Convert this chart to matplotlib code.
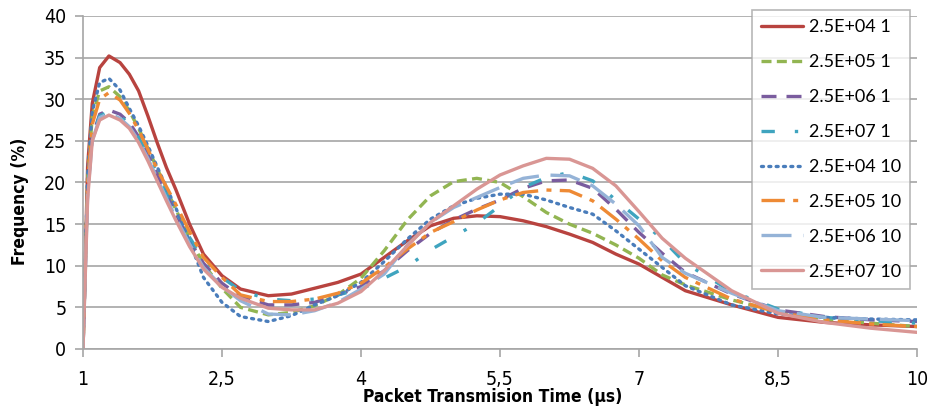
import matplotlib
matplotlib.use('Agg')
import matplotlib.pyplot as plt
from matplotlib import font_manager

x = [1.0, 1.05, 1.1, 1.18, 1.28, 1.4, 1.5, 1.6, 1.7, 1.8, 1.9, 2.0, 2.15, 2.3, 2.5,
     2.7, 3.0, 3.25, 3.5, 3.75, 4.0, 4.25, 4.5, 4.75, 5.0, 5.25, 5.5, 5.75, 6.0,
     6.25, 6.5, 6.75, 7.0, 7.25, 7.5, 8.0, 8.5, 9.0, 9.5, 10.0]

s_e4_1 = [0, 22, 29.5, 33.8, 35.2, 34.4, 33.0, 31.0, 28.0, 24.8, 21.8, 19.2, 15.0, 11.4, 8.8,
          7.2, 6.4, 6.6, 7.3, 8.0, 9.0, 11.0, 13.0, 14.8, 15.7, 16.0, 15.9, 15.4, 14.7,
          13.8, 12.8, 11.4, 10.2, 8.6, 7.0, 5.3, 3.8, 3.2, 2.9, 2.7]
s_e5_1 = [0, 20.5, 28, 31, 31.5, 30.3, 28.6, 26.5, 24.1, 21.7, 19.2, 16.8, 13.3, 10.2, 7.3,
          5.0, 4.1, 4.4, 5.2, 6.5, 8.5, 11.8, 15.5, 18.4, 20.1, 20.5, 20.0, 18.3, 16.4,
          15.0, 13.9, 12.5, 10.9, 8.9, 7.7, 5.9, 4.5, 3.6, 3.1, 2.7]
s_e6_1 = [0, 19, 25.5, 28.2, 28.7, 28.2, 27.2, 25.5, 23.4, 21.0, 18.6, 16.3, 13.0, 10.3, 7.9,
          6.3, 5.3, 5.3, 5.6, 6.5, 7.5, 9.4, 11.8, 13.9, 15.5, 16.8, 17.9, 19.3, 20.2,
          20.3, 19.3, 16.8, 14.0, 11.5, 9.2, 6.6, 4.7, 3.9, 3.5, 3.3]
s_e7_1 = [0, 19, 25.5, 28.0, 28.5, 28.0, 27.0, 25.4, 23.4, 21.2, 18.9, 16.6, 13.4, 10.8, 8.6,
          7.0, 6.0, 5.8, 6.0, 6.5, 7.2, 8.5, 9.9, 11.9, 13.5, 15.1, 17.2, 19.4, 20.6,
          21.2, 20.2, 17.9, 15.6, 13.2, 10.3, 6.9, 4.8, 3.8, 3.4, 3.1]
s_e4_10 = [0, 21, 28.5, 32, 32.5, 31.1, 28.9, 26.8, 24.4, 21.9, 19.4, 17.0, 12.9, 8.6, 5.6,
           3.9, 3.3, 4.0, 5.3, 6.4, 8.0, 10.5, 13.2, 15.6, 17.2, 18.1, 18.6, 18.6, 17.9,
           17.0, 16.2, 14.2, 12.0, 9.8, 7.6, 5.3, 4.2, 3.8, 3.6, 3.5]
s_e5_10 = [0, 20, 27, 30, 30.8, 29.9, 28.3, 26.3, 24.0, 21.6, 19.5, 17.4, 14.1, 11.0, 8.6,
           6.5, 5.7, 5.7, 6.0, 6.7, 7.9, 9.8, 12.0, 14.0, 15.3, 16.7, 17.9, 18.8, 19.1,
           19.0, 17.8, 15.6, 13.2, 10.6, 8.6, 6.0, 4.4, 3.5, 3.0, 2.7]
s_e6_10 = [0, 18.5, 25, 27.8, 28.3, 27.7, 26.7, 25.0, 22.9, 20.5, 18.1, 15.8, 12.6, 9.8, 7.5,
           5.8, 4.2, 4.1, 4.6, 5.6, 7.2, 9.0, 12.5, 15.2, 17.0, 18.2, 19.4, 20.5, 20.9,
           20.8, 19.6, 17.4, 14.8, 11.0, 9.1, 6.7, 4.6, 3.8, 3.6, 3.4]
s_e7_10 = [0, 18, 25, 27.5, 28.1, 27.5, 26.5, 24.8, 22.6, 20.2, 17.8, 15.5, 12.3, 9.6, 7.4,
           6.1, 4.9, 4.7, 4.7, 5.5, 6.9, 9.4, 12.4, 15.2, 17.2, 19.2, 20.9, 22.0, 22.9,
           22.8, 21.7, 19.6, 16.5, 13.3, 10.9, 7.0, 4.3, 3.2, 2.5, 2.0]

labels = ['2.5E+04 1', '2.5E+05 1', '2.5E+06 1', '2.5E+07 1',
          '2.5E+04 10', '2.5E+05 10', '2.5E+06 10', '2.5E+07 10']
series = [s_e4_1, s_e5_1, s_e6_1, s_e7_1, s_e4_10, s_e5_10, s_e6_10, s_e7_10]
colors = ['#B8433F', '#92B552', '#7A5C9E', '#3FA4BF', '#4A7DBB', '#EE8A35', '#95B3D7', '#D99694']
styles = ['-', (0, (3, 1.6)), (0, (4.5, 3)), (0, (4, 6, 1, 6)),
          (0, (0.6, 1.6)), (0, (7, 2.5, 1.5, 2.5)), (0, (9, 3.5)), '-']

x_ticks = [1, 2.5, 4, 5.5, 7, 8.5, 10]
x_tick_labels = ['1', '2,5', '4', '5,5', '7', '8,5', '10']
y_ticks = [0, 5, 10, 15, 20, 25, 30, 35, 40]

names = {f.name for f in font_manager.fontManager.ttflist}
narrow = 'Liberation Sans Narrow' if 'Liberation Sans Narrow' in names else 'DejaVu Sans'
tick_font = font_manager.FontProperties(family=narrow, stretch='condensed', size=14)
title_font = font_manager.FontProperties(family=narrow, stretch='condensed', weight='bold', size=12.5)
legend_font = font_manager.FontProperties(family=['Lato', 'DejaVu Sans'], size=13)

fig = plt.figure(figsize=(9.33, 4.12), dpi=100)
ax = fig.add_axes([83 / 933, 1 - 349 / 412, (917 - 83) / 933, (349 - 16) / 412])

for ys, c, ls, lab in zip(series, colors, styles, labels):
    cap = 'round' if ls == (0, (0.6, 1.6)) else 'butt'
    ax.plot(x, ys, color=c, linestyle=ls, linewidth=2.4, label=lab,
            dash_capstyle=cap, solid_capstyle='round')

ax.set_xlim(1, 10)
ax.set_ylim(0, 40)
ax.set_xticks(x_ticks)
ax.set_xticklabels(x_tick_labels, fontproperties=tick_font)
ax.set_yticks(y_ticks)
ax.set_yticklabels([str(v) for v in y_ticks], fontproperties=tick_font)
ax.yaxis.grid(True, color='#A6A6A6', linewidth=1.2)
ax.set_axisbelow(True)
for side in ['top', 'right']:
    ax.spines[side].set_visible(False)
for side in ['left', 'bottom']:
    ax.spines[side].set_color('#A6A6A6')
    ax.spines[side].set_linewidth(1.2)
ax.tick_params(axis='both', direction='out', length=6, width=1.2, color='#A6A6A6')
ax.tick_params(axis='y', pad=6)
ax.tick_params(axis='x', pad=9)

ax.set_xlabel('Packet Transmision Time (µs)', fontproperties=title_font)
ax.xaxis.set_label_coords((493 - 83) / 834, (349 - 388) / 333)
ax.set_ylabel('Frequency (%)', fontproperties=title_font)
ax.yaxis.set_label_coords((29 - 83) / 834, (349 - 201) / 333)

leg = ax.legend(loc='upper right', bbox_to_anchor=(910 / 933, 1 - 10 / 412),
                bbox_transform=fig.transFigure, frameon=True, fancybox=False,
                edgecolor='#A6A6A6', handlelength=2.3, handletextpad=0.35,
                labelspacing=1.05, borderpad=0.5, borderaxespad=0,
                prop=legend_font)
leg.get_frame().set_linewidth(1.2)

fig.savefig('out.png', dpi=100)
